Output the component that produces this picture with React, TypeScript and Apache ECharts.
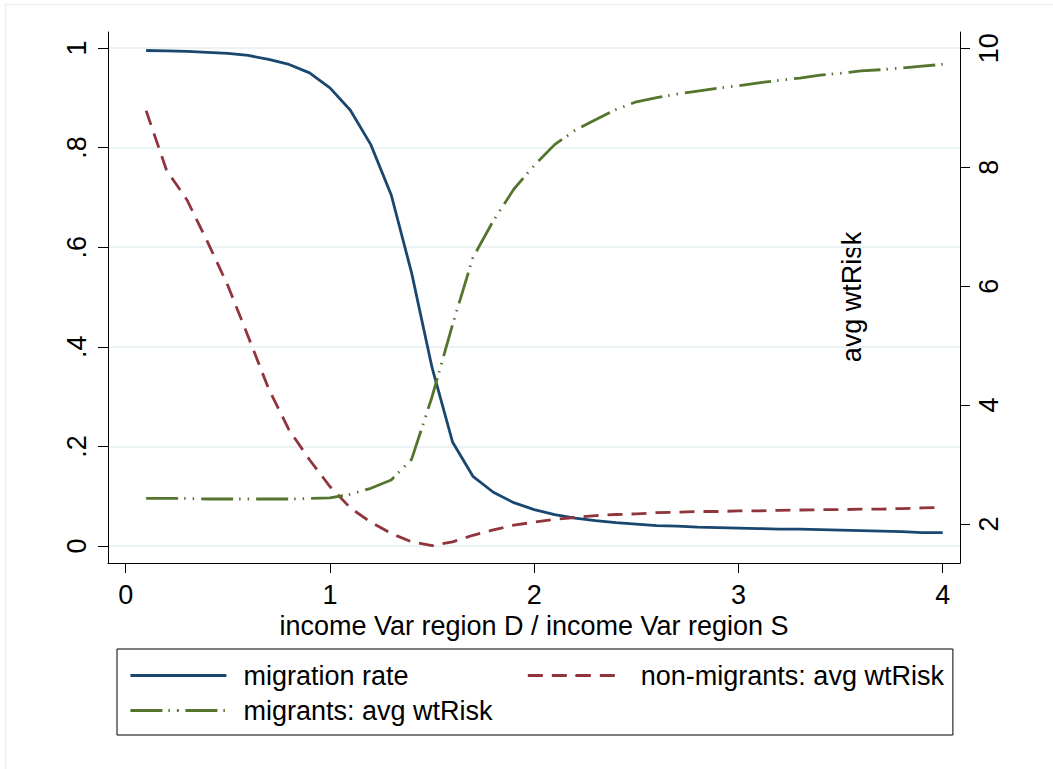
import React, { useEffect, useRef } from "react";
import * as echarts from "echarts";

// ---- data ----
const incomeRatio = [
  0.1, 0.2, 0.3, 0.4, 0.5, 0.6, 0.7, 0.8, 0.9, 1.0,
  1.1, 1.2, 1.3, 1.4, 1.5, 1.6, 1.7, 1.8, 1.9, 2.0,
  2.1, 2.2, 2.3, 2.4, 2.5, 2.6, 2.7, 2.8, 2.9, 3.0,
  3.1, 3.2, 3.3, 3.4, 3.5, 3.6, 3.7, 3.8, 3.9, 4.0,
];

const migrationRate = [
  0.995, 0.994, 0.993, 0.991, 0.989, 0.985, 0.977, 0.967, 0.95, 0.92,
  0.875, 0.806, 0.705, 0.548, 0.358, 0.209, 0.14, 0.108, 0.087, 0.073,
  0.063, 0.056, 0.051, 0.047, 0.044, 0.041, 0.04, 0.038, 0.037, 0.036,
  0.035, 0.034, 0.034, 0.033, 0.032, 0.031, 0.03, 0.029, 0.027, 0.027,
];

const nonMigrantsRisk = [
  8.95, 7.95, 7.45, 6.75, 6.01, 5.15, 4.27, 3.58, 3.08, 2.63,
  2.27, 2.03, 1.84, 1.7, 1.635, 1.7, 1.81, 1.9, 1.98, 2.03,
  2.08, 2.11, 2.14, 2.16, 2.17, 2.19, 2.2, 2.21, 2.21, 2.22,
  2.22, 2.23, 2.235, 2.24, 2.24, 2.25, 2.25, 2.26, 2.27, 2.28,
];

const migrantsRisk = [
  2.43, 2.43, 2.43, 2.42, 2.42, 2.42, 2.42, 2.42, 2.43, 2.44,
  2.5, 2.6, 2.74, 3.09, 4.14, 5.35, 6.48, 7.1, 7.63, 8.03,
  8.38, 8.62, 8.8, 8.97, 9.1, 9.17, 9.23, 9.28, 9.33, 9.37,
  9.42, 9.46, 9.5, 9.55, 9.58, 9.62, 9.64, 9.67, 9.7, 9.73,
];

const xTicks = [0, 1, 2, 3, 4];
const leftTicks = [0, 0.2, 0.4, 0.6, 0.8, 1];
const rightTicks = [2, 4, 6, 8, 10];

const seriesNames = [
  "migration rate",
  "non-migrants: avg wtRisk",
  "migrants: avg wtRisk",
];
const xTitle = "income Var region D / income Var region S";
const rightTitle = "avg wtRisk";

const FONT = '"Liberation Sans", Arial, Helvetica, sans-serif';
const NAVY = "#1a476f";
const MAROON = "#90353b";
const GREEN = "#55752f";
const GRIDC = "#EAF2F3";
const AXISC = "#000";

const fmtLeft = (v: number) =>
  v === 0 ? "0" : v === 1 ? "1" : String(v).replace(/^0\./, ".");

export default function App() {
  const ref = useRef<HTMLDivElement>(null);

  useEffect(() => {
    if (!ref.current) return;
    const chart = echarts.init(ref.current, null, { renderer: "svg" });
    const pairs = (ys: number[]) => incomeRatio.map((x, i) => [x, ys[i]]);
    const axisLine = { show: true, onZero: false, lineStyle: { color: AXISC, width: 1 } };
    const labelStyle = { fontSize: 27, color: "#000", fontFamily: FONT };

    chart.setOption({
      animation: false,
      backgroundColor: "#fff",
      textStyle: { fontFamily: FONT },
      grid: { left: 108, top: 32, width: 852, height: 531, containLabel: false, outerBoundsMode: "none" },
      xAxis: {
        type: "value",
        min: -0.0867,
        max: 4.0847,
        name: xTitle,
        nameLocation: "middle",
        nameGap: 44,
        nameTextStyle: labelStyle,
        axisLine,
        axisTick: { show: true, length: 10, customValues: xTicks, lineStyle: { color: AXISC, width: 1 } },
        axisLabel: { ...labelStyle, customValues: xTicks, margin: 18, formatter: (v: number) => String(v) },
        splitLine: { show: false },
      },
      yAxis: [
        {
          type: "value",
          position: "left",
          min: -0.0341,
          max: 1.0321,
          axisLine,
          axisTick: { show: true, length: 10, customValues: leftTicks, lineStyle: { color: AXISC, width: 1 } },
          axisLabel: { ...labelStyle, customValues: leftTicks, rotate: 90, margin: 18, formatter: fmtLeft },
          splitLine: { show: true, lineStyle: { color: GRIDC, width: 2 } },
        },
        {
          type: "value",
          position: "right",
          min: 1.344,
          max: 10.274,
          axisLine,
          axisTick: { show: true, length: 10, customValues: rightTicks, lineStyle: { color: AXISC, width: 1 } },
          axisLabel: { ...labelStyle, customValues: rightTicks, rotate: 90, margin: 15, formatter: (v: number) => String(v) },
          splitLine: { show: false },
        },
      ],
      legend: {
        left: 117,
        top: 649,
        orient: "horizontal",
        width: 815,
        padding: [13, 9, 11, 12],
        itemGap: 8,
        itemWidth: 96,
        itemHeight: 2,
        borderColor: "#000",
        borderWidth: 1,
        selectedMode: false,
        lineStyle: { width: 2.8 },
        itemStyle: { borderWidth: 0 },
        textStyle: { ...labelStyle, lineHeight: 27, padding: [0, 0, 0, 12] },
        data: [
          { name: seriesNames[0], textStyle: { width: 275 } },
          { name: seriesNames[1] },
          { name: seriesNames[2] },
        ],
      },
      series: [
        {
          name: seriesNames[0],
          type: "line",
          yAxisIndex: 0,
          data: pairs(migrationRate),
          symbol: "none",
          color: NAVY,
          lineStyle: { color: NAVY, width: 2.8, type: "solid" },
        },
        {
          name: seriesNames[1],
          type: "line",
          yAxisIndex: 1,
          data: pairs(nonMigrantsRisk),
          symbol: "none",
          color: MAROON,
          lineStyle: { color: MAROON, width: 2.8, type: [15, 9] },
        },
        {
          name: seriesNames[2],
          type: "line",
          yAxisIndex: 1,
          data: pairs(migrantsRisk),
          symbol: "none",
          color: GREEN,
          lineStyle: { color: GREEN, width: 2.8, type: [32, 6, 1.5, 7, 1.5, 7] },
        },
      ],
      graphic: [
        {
          type: "rect",
          silent: true,
          shape: { x: 5.5, y: 4.5, width: 1100, height: 800 },
          style: { fill: "none", stroke: GRIDC, lineWidth: 1.5 },
        },
        {
          type: "text",
          x: 852,
          y: 297,
          rotation: Math.PI / 2,
          style: {
            text: rightTitle,
            fontSize: 27,
            fontFamily: FONT,
            fill: "#000",
            align: "center",
            verticalAlign: "middle",
          },
        },
      ],
    });
    return () => chart.dispose();
  }, []);

  return (
    <div
      ref={ref}
      style={{ position: "fixed", left: 0, top: 0, width: 1053, height: 769, background: "#fff" }}
    />
  );
}
